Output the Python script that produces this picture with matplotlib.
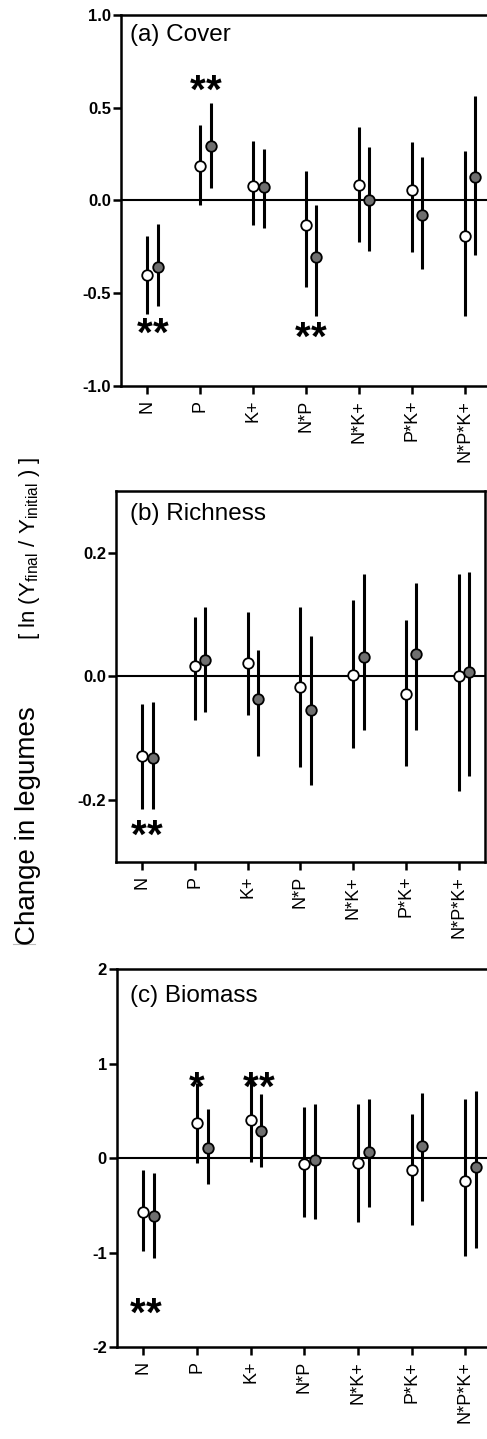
import matplotlib

matplotlib.use("Agg")
import matplotlib.pyplot as plt
from matplotlib.lines import Line2D
import numpy as np

plt.rcParams["font.family"] = ["Liberation Sans", "DejaVu Sans"]
plt.rcParams["mathtext.fontset"] = "custom"
plt.rcParams["mathtext.rm"] = "Liberation Sans"
plt.rcParams["axes.unicode_minus"] = False

categories = ["N", "P", "K+", "N*P", "N*K+", "P*K+", "N*P*K+"]

cover_open = [-0.40, 0.185, 0.077, -0.135, 0.083, 0.058, -0.193]
cover_open_lo = [-0.61, -0.027, -0.135, -0.468, -0.225, -0.279, -0.625]
cover_open_hi = [-0.19, 0.405, 0.322, 0.158, 0.396, 0.317, 0.264]
cover_fill = [-0.357, 0.293, 0.072, -0.306, 0.0, -0.081, 0.128]
cover_fill_lo = [-0.57, 0.068, -0.15, -0.625, -0.27, -0.369, -0.292]
cover_fill_hi = [-0.125, 0.525, 0.279, -0.022, 0.288, 0.234, 0.565]

rich_open = [-0.129, 0.017, 0.021, -0.017, 0.003, -0.028, 0.0]
rich_open_lo = [-0.215, -0.07, -0.063, -0.147, -0.116, -0.145, -0.185]
rich_open_hi = [-0.044, 0.096, 0.105, 0.113, 0.123, 0.091, 0.165]
rich_fill = [-0.132, 0.026, -0.036, -0.055, 0.032, 0.037, 0.0075]
rich_fill_lo = [-0.215, -0.058, -0.128, -0.176, -0.086, -0.086, -0.161]
rich_fill_hi = [-0.041, 0.113, 0.043, 0.065, 0.166, 0.151, 0.169]

bio_open = [-0.569, 0.376, 0.404, -0.064, -0.057, -0.127, -0.24]
bio_open_lo = [-0.98, -0.053, -0.046, -0.629, -0.682, -0.71, -1.035]
bio_open_hi = [-0.127, 0.794, 0.85, 0.539, 0.574, 0.461, 0.628]
bio_fill = [-0.611, 0.103, 0.287, -0.021, 0.064, 0.131, -0.099]
bio_fill_lo = [-1.053, -0.277, -0.092, -0.64, -0.523, -0.452, -0.947]
bio_fill_hi = [-0.155, 0.514, 0.674, 0.574, 0.62, 0.688, 0.709]

# significance marks: (x position, y position, text)
cover_stars = [(0.1, -0.655, "**"), (1.1, 0.65, "**"), (3.1, -0.68, "**")]
rich_stars = [(0.08, -0.239, "**")]
bio_stars = [(0.05, -1.53, "**"), (1.0, 0.865, "*"), (2.15, 0.865, "**")]

panels = [
    dict(title="(a) Cover", rect=(0.2478, 0.7318, 0.7604, 0.2578), ylim=(-1, 1),
         yticks=[-1.0, -0.5, 0.0, 0.5, 1.0], fmt="{:.1f}", title_xy=(0.025, 0.975),
         series=(cover_open, cover_open_lo, cover_open_hi, cover_fill, cover_fill_lo, cover_fill_hi),
         stars=cover_stars),
    dict(title="(b) Richness", rect=(0.2376, 0.4010, 0.7583, 0.2578), ylim=(-0.3, 0.3),
         yticks=[-0.2, 0.0, 0.2], fmt="{:.1f}", title_xy=(0.039, 0.968),
         series=(rich_open, rich_open_lo, rich_open_hi, rich_fill, rich_fill_lo, rich_fill_hi),
         stars=rich_stars),
    dict(title="(c) Biomass", rect=(0.2396, 0.0639, 0.7706, 0.2627), ylim=(-2, 2),
         yticks=[-2, -1, 0, 1, 2], fmt="{:d}", title_xy=(0.035, 0.958),
         series=(bio_open, bio_open_lo, bio_open_hi, bio_fill, bio_fill_lo, bio_fill_hi),
         stars=bio_stars),
]

fig = plt.figure(figsize=(4.87, 14.39), dpi=100)
x = np.arange(len(categories))
offset = 0.2
star_fs = 29
star_gap = 11.5  # points between the two asterisks of "**"

for p in panels:
    ax = fig.add_axes(p["rect"])
    o, o_lo, o_hi, f, f_lo, f_hi = (np.asarray(s, dtype=float) for s in p["series"])
    ax.axhline(0, color="black", linewidth=1.5, zorder=1)
    for xs, c, lo, hi, face in ((x, o, o_lo, o_hi, "white"), (x + offset, f, f_lo, f_hi, "#6f6f6f")):
        ax.errorbar(xs, c, yerr=[c - lo, hi - c], fmt="o", color="black", ecolor="black",
                    elinewidth=2.2, capsize=0, markersize=7.6, markeredgewidth=1.3,
                    markerfacecolor=face, markeredgecolor="black", zorder=3)
    for sx, sy, txt in p["stars"]:
        n = len(txt)
        for k in range(n):
            dx = (k - (n - 1) / 2) * star_gap
            ax.annotate("*", (sx, sy), xytext=(dx, -0.58 * star_fs), textcoords="offset points",
                        ha="center", va="baseline", fontsize=star_fs, fontweight="bold", zorder=4)
    ax.text(*p["title_xy"], p["title"], transform=ax.transAxes, ha="left", va="top", fontsize=17.5)

    ax.set_xlim(-0.5, 6.5)
    ax.set_ylim(*p["ylim"])
    ax.set_xticks(x)
    ax.set_xticklabels(categories, rotation=90, fontsize=13)
    ax.set_yticks(p["yticks"])
    ax.set_yticklabels([p["fmt"].format(v) for v in p["yticks"]], fontsize=12, fontweight="bold")
    for side in ax.spines.values():
        side.set_linewidth(1.8)
    ax.tick_params(axis="both", direction="out", length=6, width=1.8, color="black")
    ax.tick_params(axis="y", pad=1)
    ax.tick_params(axis="x", pad=4)

fig.text(35 / 487, 1 - 945 / 1439, "Change in legumes", rotation=90, rotation_mode="anchor",
         ha="left", va="baseline", fontsize=20)
fig.text(35 / 487, 1 - 640 / 1439,
         r"[ ln (Y$_\mathregular{final}$ / Y$_\mathregular{initial}$ ) ]",
         rotation=90, rotation_mode="anchor", ha="left", va="baseline", fontsize=16)
fig.add_artist(Line2D([12.7 / 487, 35 / 487], [1 - 944 / 1439, 1 - 944 / 1439],
                      color="#bbbbbb", linewidth=0.8))

fig.savefig("out.png", dpi=100)
